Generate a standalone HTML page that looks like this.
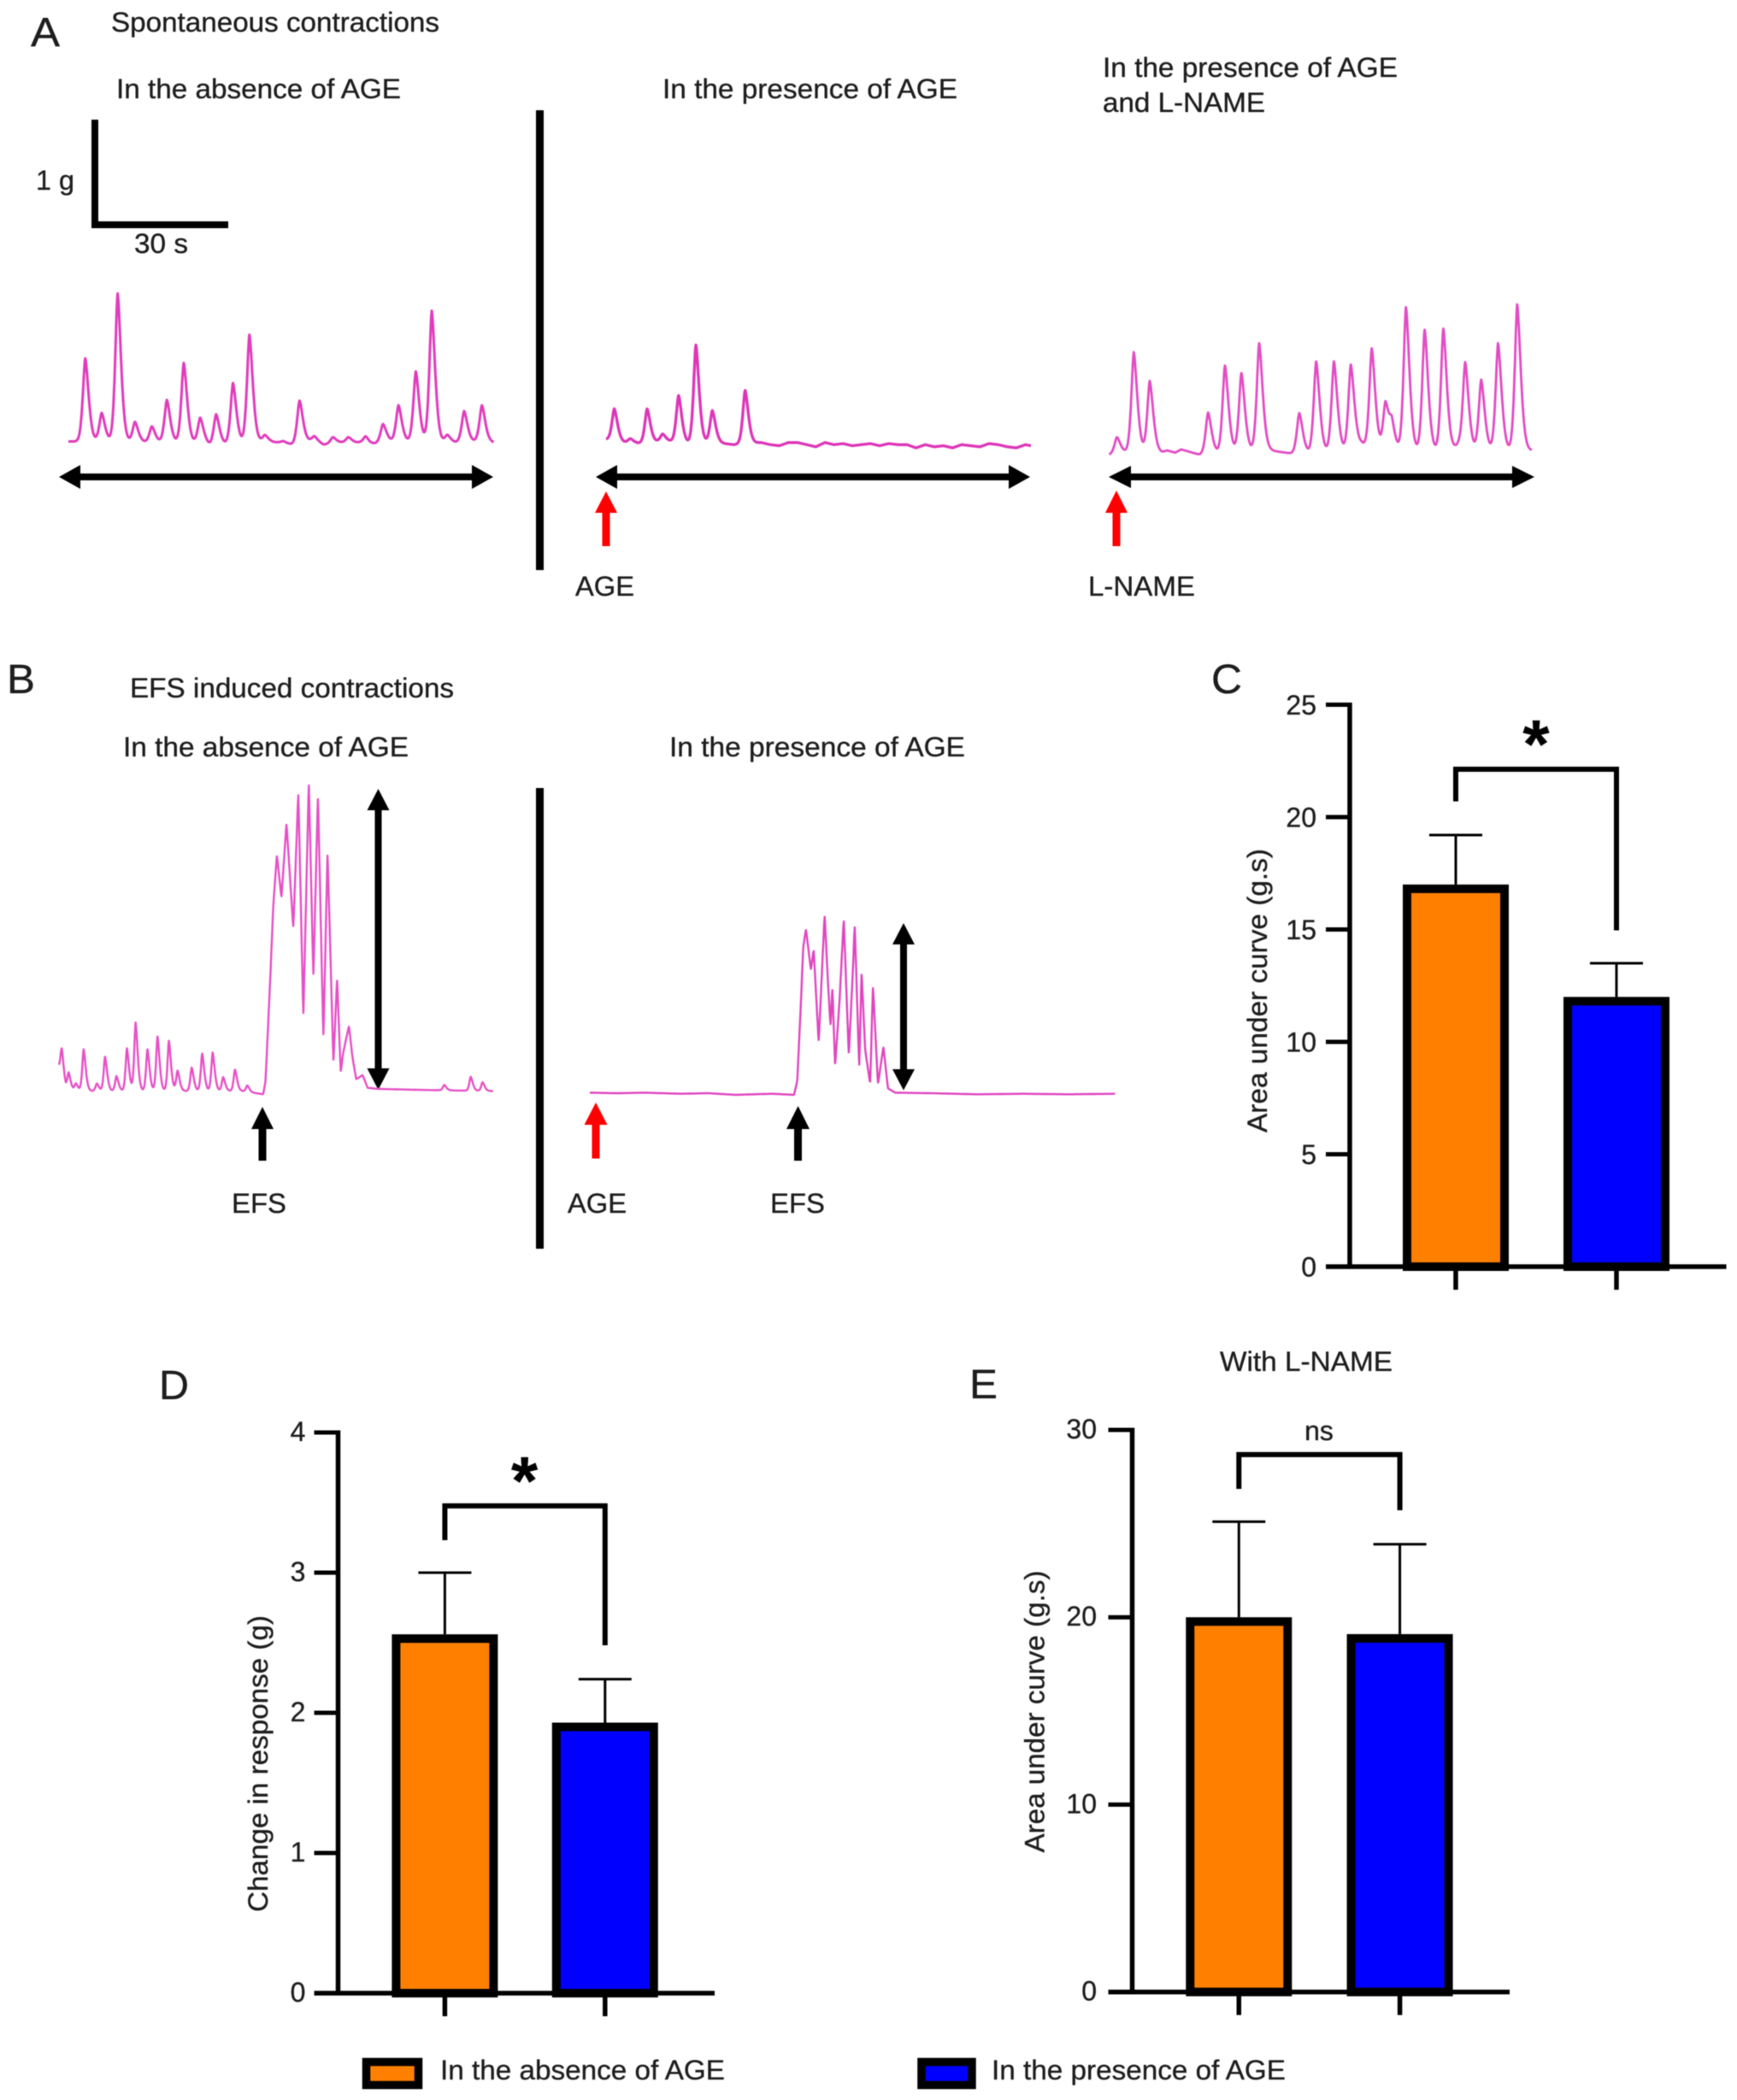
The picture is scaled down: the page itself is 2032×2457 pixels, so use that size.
<!DOCTYPE html>
<html lang="en">
<head>
<meta charset="utf-8">
<title>Spontaneous and EFS induced contractions</title>
<style>
html,body{margin:0;padding:0;background:#fff;}
svg{display:block;filter:blur(0.6px);}
text{font-family:"Liberation Sans",sans-serif;fill:#1d1d1d;font-size:32px;stroke:#1d1d1d;stroke-width:0.35px;}
.letter{font-size:48px;}
</style>
</head>
<body>
<svg id="figure" xmlns="http://www.w3.org/2000/svg" width="2032" height="2457" viewBox="0 0 2032 2457">
<rect x="0" y="0" width="2032" height="2457" fill="#ffffff"/>

<g id="panel-a">
<text class="letter" x="36" y="54" textLength="34" lengthAdjust="spacingAndGlyphs">A</text>
<text x="130" y="37" textLength="384" lengthAdjust="spacingAndGlyphs">Spontaneous contractions</text>
<text x="136" y="115" textLength="333" lengthAdjust="spacingAndGlyphs">In the absence of AGE</text>
<text x="775" y="115" textLength="345" lengthAdjust="spacingAndGlyphs">In the presence of AGE</text>
<text x="1290" y="90" textLength="345" lengthAdjust="spacingAndGlyphs">In the presence of AGE</text>
<text x="1290" y="131" textLength="190" lengthAdjust="spacingAndGlyphs">and L-NAME</text>
<path d="M111 140V263H267" fill="none" stroke="#000" stroke-width="8"/>
<text x="42" y="222" textLength="45" lengthAdjust="spacingAndGlyphs">1 g</text>
<text x="157" y="296" textLength="63" lengthAdjust="spacingAndGlyphs">30 s</text>
<rect x="627" y="129" width="9" height="538" fill="#000"/>
<polygon points="69,558 94,544 94,554 552,554 552,544 577,558 552,572 552,562 94,562 94,572" fill="#000"/>
<polygon points="697,558 722,544 722,554 1180,554 1180,544 1205,558 1180,572 1180,562 722,562 722,572" fill="#000"/>
<polygon points="1297,558 1323,545 1323,554 1769,554 1769,545 1795,558 1769,571 1769,562 1323,562 1323,571" fill="#000"/>
<polygon points="709,575 722,600 713.5,600 713.5,639 704.5,639 704.5,600 696,600" fill="#fe0000"/>
<polygon points="1306,574 1319,600 1310.5,600 1310.5,639 1301.5,639 1301.5,600 1293,600" fill="#fe0000"/>
<text x="673" y="697" textLength="69" lengthAdjust="spacingAndGlyphs">AGE</text>
<text x="1273" y="697" textLength="125" lengthAdjust="spacingAndGlyphs">L-NAME</text>
</g>

<g id="panel-b">
<text class="letter" x="8" y="811" textLength="33" lengthAdjust="spacingAndGlyphs">B</text>
<text x="152" y="816" textLength="379" lengthAdjust="spacingAndGlyphs">EFS induced contractions</text>
<text x="144" y="885" textLength="334" lengthAdjust="spacingAndGlyphs">In the absence of AGE</text>
<text x="783" y="885" textLength="346" lengthAdjust="spacingAndGlyphs">In the presence of AGE</text>
<rect x="627" y="922" width="9" height="539" fill="#000"/>
<polygon points="307,1295 320,1321 311.5,1321 311.5,1358 302.5,1358 302.5,1321 294,1321" fill="#000"/>
<polygon points="933.6,1294 947,1321 938,1321 938,1358 929,1358 929,1321 920,1321" fill="#000"/>
<polygon points="697,1290 710.5,1316 701.5,1316 701.5,1355.5 692.5,1355.5 692.5,1316 683.5,1316" fill="#fe0000"/>
<polygon points="442.5,923 455.5,948 446.5,948 446.5,1250 455.5,1250 442.5,1275 429.5,1250 438.5,1250 438.5,948 429.5,948" fill="#000"/>
<polygon points="1057,1080 1070,1105 1061,1105 1061,1251 1070,1251 1057,1275.6 1044,1251 1053,1251 1053,1105 1044,1105" fill="#000"/>
<text x="271" y="1419" textLength="64" lengthAdjust="spacingAndGlyphs">EFS</text>
<text x="664" y="1419" textLength="69" lengthAdjust="spacingAndGlyphs">AGE</text>
<text x="901" y="1419" textLength="64" lengthAdjust="spacingAndGlyphs">EFS</text>
</g>

<g id="traces"></g>

<g id="panel-c">
<text class="letter" x="1417" y="811" textLength="36" lengthAdjust="spacingAndGlyphs">C</text>
</g>
<g id="panel-d">
<text class="letter" x="186" y="1637" textLength="35" lengthAdjust="spacingAndGlyphs">D</text>
</g>
<g id="panel-e">
<text class="letter" x="1134" y="1636" textLength="33" lengthAdjust="spacingAndGlyphs">E</text>
<text x="1427" y="1604" textLength="202" lengthAdjust="spacingAndGlyphs">With L-NAME</text>
</g>

<g id="legend">
<g>
<rect x="428.5" y="2412.5" width="61" height="27" fill="#ff8000" stroke="#000" stroke-width="9.5"/>
<text x="515" y="2433" textLength="333" lengthAdjust="spacingAndGlyphs">In the absence of AGE</text>
</g>
<g>
<rect x="1078" y="2412.5" width="59" height="27" fill="#0000ff" stroke="#000" stroke-width="9.5"/>
<text x="1160" y="2433" textLength="344" lengthAdjust="spacingAndGlyphs">In the presence of AGE</text>
</g>
</g>
</svg>

<script>
/* ---------- Force traces: seconds and grams ---------- */
const a1PeakTimes = [3.7,7.3,10.8,14.6,18.3,21.6,25.3,28.9,32.4,36.1,39.7,43.1,47.1,50.7,53.9,58.0,61.4,65.2,69.0,72.4,76.2,79.7,83.1,86.8,90.7];
const a1PeakHeights = [.78,.27,1.39,.19,.15,.40,.75,.24,.29,.57,1.01,.06,.02,.40,.04,.06,.05,.07,.17,.34,.66,1.23,.07,.29,.34];
const a1BaseTimes = [0,20,30,31.2,43,46,49.3,54,56,60,64,66,70,85,90,93.3];
const a1BaseValues = [0,-.01,-.02,-.04,0,-.01,-.03,.01,-.03,-.01,-.01,-.03,0,-.01,0,-.01];

const a2PeakTimes = [1.8,5.3,9.0,12.4,15.9,19.7,23.3,30.5];
const a2PeakHeights = [.30,.04,.32,.07,.44,.92,.30,.50];
const a2BaseTimes = [0,4,8,12,14,18,24,28,31,34,36,38,40,42,44,46,48,50,52,54,56,58,60,62,64,66,68,70,72,74,76,78,80,82,84,86,88,90,92,93.2];
const a2BaseValues = [.02,-.01,-.02,0,0,-.02,-.01,-.03,-.02,-.01,-.03,-.04,-.01,-.01,-.03,-.05,-.01,-.03,-.02,-.04,-.03,-.02,-.04,-.02,-.03,-.03,-.06,-.03,-.05,-.04,-.06,-.03,-.04,-.05,-.02,-.03,-.05,-.06,-.03,-.04];

const a3PeakTimes = [1.7,5.4,8.9,21.7,25.4,29.0,32.9,41.7,45.4,49.3,53.0,57.6,60.6,62.0,65.1,69.2,73.3,78.1,81.6,85.3,89.5];
const a3PeakHeights = [.155,.94,.67,.39,.82,.74,1.01,.38,.86,.85,.79,.94,.45,.23,1.35,1.14,1.15,.82,.67,1.01,1.37];
const a3BaseTimes = [0,3.7,11.5,12.7,14.5,15.8,19.9,35.3,40.3,44.3,51.8,55.4,56.5,59.7,74.8,76.6,78.7,92.7];
const a3BaseValues = [-.03,-.01,-.01,.01,-.01,.02,-.03,.01,-.02,-.02,0,.07,.04,0,0,.06,0,.01];

const b1PeakTimes = [.6,2.1,3.7,5.4,8.3,10.1,12.6,14.9,16.8,19.4,21.6,24.1,26.0,29.1,31.4,33.7,36.0,38.6,41.3,84.5,90.3,92.9];
const b1PeakHeights = [.28,.17,.07,.39,.07,.32,.14,.40,.64,.39,.51,.47,.19,.22,.35,.36,.13,.20,.06,.05,.13,.08];
const b1BaseTimes = [0,1.5,40,44.8,45.3,46.3,47,47.8,48.8,49.9,51.4,52.5,53.6,54.8,55.8,56.8,58,58.9,60.2,61,61.8,62.3,63.6,64.4,65.2,66.6,67.7,70,80,95.2];
const b1BaseValues = [.2,0,0,-.03,.09,1.01,1.73,2.21,1.81,2.51,1.52,2.81,.68,2.91,1.05,2.78,.48,2.25,.26,1.06,.17,.35,.61,.31,.11,.15,.03,.02,.01,.0];

const b2PeakTimes = [];
const b2PeakHeights = [];
const b2BaseTimes = [0,6,12,20,26,32,36,40,44.8,45.5,46.3,46.8,47.4,48.5,49.1,50.2,51.5,52.2,52.8,53.2,53.8,54.8,55.7,56.8,57.7,58.1,59.1,59.6,60.4,61.5,62.1,63.2,64.4,65.4,67,75,85,95,105,115.2];
const b2BaseValues = [.01,.005,.01,0,.005,-.01,-.005,0,-.01,.12,.85,1.37,1.54,1.16,1.35,.48,1.68,1.07,.63,1,.26,.89,1.64,.36,1.15,1.59,.23,1.15,.41,.09,1.02,.09,.44,.05,.01,.005,-.005,0,-.005,0];

/* ---------- Bar charts ---------- */
const groupCategories = ["absence-of-age","presence-of-age"];

const cValues = [17.0,12.0];
const cErrors = [2.2,1.5];
const cTickLabels = [0,5,10,15,20,25];
const cBracketLevels = [22.13,20.7,14.96];

const dValues = [2.56,1.93];
const dErrors = [.44,.31];
const dTickLabels = [0,1,2,3,4];
const dBracketLevels = [3.476,3.232,2.482];

const eValues = [20.0,19.1];
const eErrors = [5.1,4.8];
const eTickLabels = [0,10,20,30];
const eBracketLevels = [28.68,26.85,25.71];

const SVGNS = "http://www.w3.org/2000/svg";

function make(parent, tag, attrs, content) {
  const el = document.createElementNS(SVGNS, tag);
  for (const key in attrs) el.setAttribute(key, attrs[key]);
  if (content !== undefined) el.textContent = content;
  parent.appendChild(el);
  return el;
}

/* Axis functions for the force traces: 30 s = 160 px, 1 g = 125 px */
function timeAxis(originX) { return function (t) { return originX + t * 160 / 30; }; }
function forceAxis(originY) { return function (g) { return originY - g * 125; }; }

function baselineAt(t, times, values) {
  if (t <= times[0]) return values[0];
  for (let i = 1; i < times.length; i++) {
    if (t <= times[i]) {
      const f = (t - times[i - 1]) / (times[i] - times[i - 1]);
      return values[i - 1] + f * (values[i] - values[i - 1]);
    }
  }
  return values[values.length - 1];
}

function tracePath(peakTimes, peakHeights, baseTimes, baseValues, originX, originY, rise, decay) {
  const xAxis = timeAxis(originX);
  const yAxis = forceAxis(originY);
  const end = baseTimes[baseTimes.length - 1];
  const samples = baseTimes.slice();
  for (let n = 0; n * 0.1 < end; n++) samples.push(n * 0.1);
  samples.sort(function (a, b) { return a - b; });
  let d = "";
  samples.forEach(function (t) {
    let g = (baselineAt(t - 0.04, baseTimes, baseValues) + baselineAt(t, baseTimes, baseValues) + baselineAt(t + 0.04, baseTimes, baseValues)) / 3;
    for (let p = 0; p < peakTimes.length; p++) {
      const dt = t - peakTimes[p];
      const w = dt < 0 ? rise : decay;
      g += peakHeights[p] * Math.exp(-Math.pow(Math.abs(dt) / w, 1.6));
    }
    d += (d ? "L" : "M") + xAxis(t).toFixed(1) + " " + yAxis(g).toFixed(1);
  });
  return d;
}

const tracesGroup = document.getElementById("traces");

const traceA1 = make(tracesGroup, "path", {d: tracePath(a1PeakTimes, a1PeakHeights, a1BaseTimes, a1BaseValues, 80, 516.5, .75, 1.05), fill: "none", stroke: "#e03cbc", "stroke-width": 3, "stroke-linejoin": "round"});



const traceA2 = make(tracesGroup, "path", {d: tracePath(a2PeakTimes, a2PeakHeights, a2BaseTimes, a2BaseValues, 709, 516.5, .72, 1.0), fill: "none", stroke: "#dd35b8", "stroke-width": 3.3, "stroke-linejoin": "round"});



const traceA3 = make(tracesGroup, "path", {d: tracePath(a3PeakTimes, a3PeakHeights, a3BaseTimes, a3BaseValues, 1297.5, 528.3, .75, 1.1), fill: "none", stroke: "#e24cc4", "stroke-width": 2.8, "stroke-linejoin": "round"});



const traceB1 = make(tracesGroup, "path", {d: tracePath(b1PeakTimes, b1PeakHeights, b1BaseTimes, b1BaseValues, 69, 1276.5, .42, .65), fill: "none", stroke: "#e650c6", "stroke-width": 2.4, "stroke-linejoin": "round"});



const traceB2 = make(tracesGroup, "path", {d: tracePath(b2PeakTimes, b2PeakHeights, b2BaseTimes, b2BaseValues, 690, 1279.7, .42, .65), fill: "none", stroke: "#e045c0", "stroke-width": 2.4, "stroke-linejoin": "round"});



function drawBarChart(groupId, values, errors, ticks, bracket, frame) {
  const group = document.getElementById(groupId);
  const yAxis = function (v) { return frame.zeroY - v * frame.pxPerUnit; };
  const xBand = function (i) { return frame.firstX + i * frame.stepX; };
  const fills = ["#ff8000", "#0000ff"];
  const halfBar = 62;

  for (let i = 0; i < values.length; i++) {
    const whisker = make(group, "path", {
      d: "M" + xBand(i) + " " + yAxis(values[i]) + "V" + yAxis(values[i] + errors[i]) +
         "M" + (xBand(i) - 31) + " " + yAxis(values[i] + errors[i]) + "H" + (xBand(i) + 31),
      fill: "none", stroke: "#000", "stroke-width": 3
    });
    
    

    const bar = make(group, "rect", {
      x: xBand(i) - halfBar + 5,
      y: yAxis(values[i]) + 5,
      width: halfBar * 2 - 10,
      height: frame.zeroY - yAxis(values[i]) - 5,
      fill: fills[i], stroke: "#000", "stroke-width": 10
    });
    
    

    const xTick = make(group, "line", {
      x1: xBand(i), x2: xBand(i), y1: frame.zeroY, y2: frame.zeroY + 27,
      stroke: "#000", "stroke-width": 5.5
    });
    
    
  }

  const yLine = make(group, "line", {
    x1: frame.axisX, x2: frame.axisX,
    y1: yAxis(ticks[ticks.length - 1]) - 2.5, y2: frame.zeroY + 2.5,
    stroke: "#000", "stroke-width": 5.5
  });
  
  

  const xLine = make(group, "line", {
    x1: frame.axisX - 28, x2: frame.axisEndX, y1: frame.zeroY, y2: frame.zeroY,
    stroke: "#000", "stroke-width": 5.5
  });
  
  

  ticks.forEach(function (tick) {
    const mark = make(group, "line", {
      x1: frame.axisX - 28, x2: frame.axisX, y1: yAxis(tick), y2: yAxis(tick),
      stroke: "#000", "stroke-width": 5
    });
    
    

    const label = make(group, "text", {x: frame.labelX, y: yAxis(tick) + frame.labelDy, "text-anchor": "end"}, String(tick));
    
    
  });

  const title = make(group, "text", {
    x: frame.titleX, y: frame.titleY, "text-anchor": "middle",
    transform: "rotate(-90 " + frame.titleX + " " + frame.titleY + ")",
    textLength: frame.titleLength, lengthAdjust: "spacingAndGlyphs"
  }, frame.title);
  
  

  const link = make(group, "path", {
    d: "M" + xBand(0) + " " + yAxis(bracket[1]) + "V" + yAxis(bracket[0]) + "H" + xBand(1) + "V" + yAxis(bracket[2]),
    fill: "none", stroke: "#000", "stroke-width": 6, "stroke-linejoin": "miter"
  });
  
  

  const sign = make(group, "text", {
    x: frame.signX, y: frame.signY, "text-anchor": "middle",
    style: frame.signStyle
  }, frame.sign);
  
  
}

drawBarChart("panel-c", cValues, cErrors, cTickLabels, cBracketLevels, {
  zeroY: 1482, pxPerUnit: 26.3, firstX: 1703, stepX: 188, axisX: 1579, axisEndX: 2019.5,
  labelX: 1540, labelDy: 11.5, titleX: 1482, titleY: 1159, titleLength: 332, title: "Area under curve (g.s)",
  signX: 1797, signY: 898, sign: "*", signStyle: "font-size:80px;font-weight:bold;fill:#000"
});
drawBarChart("panel-d", dValues, dErrors, dTickLabels, dBracketLevels, {
  zeroY: 2332, pxPerUnit: 164, firstX: 520.4, stepX: 187.4, axisX: 395.5, axisEndX: 836,
  labelX: 357.4, labelDy: 10, titleX: 313, titleY: 2063.5, titleLength: 347, title: "Change in response (g)",
  signX: 613.6, signY: 1760, sign: "*", signStyle: "font-size:80px;font-weight:bold;fill:#000"
});
drawBarChart("panel-e", eValues, eErrors, eTickLabels, eBracketLevels, {
  zeroY: 2330.6, pxPerUnit: 21.92, firstX: 1449.3, stepX: 188.3, axisX: 1324.5, axisEndX: 1766,
  labelX: 1283, labelDy: 10, titleX: 1221.4, titleY: 2002.5, titleLength: 330, title: "Area under curve (g.s)",
  signX: 1543, signY: 1685, sign: "ns", signStyle: "font-size:32px"
});
</script>
</body>
</html>
